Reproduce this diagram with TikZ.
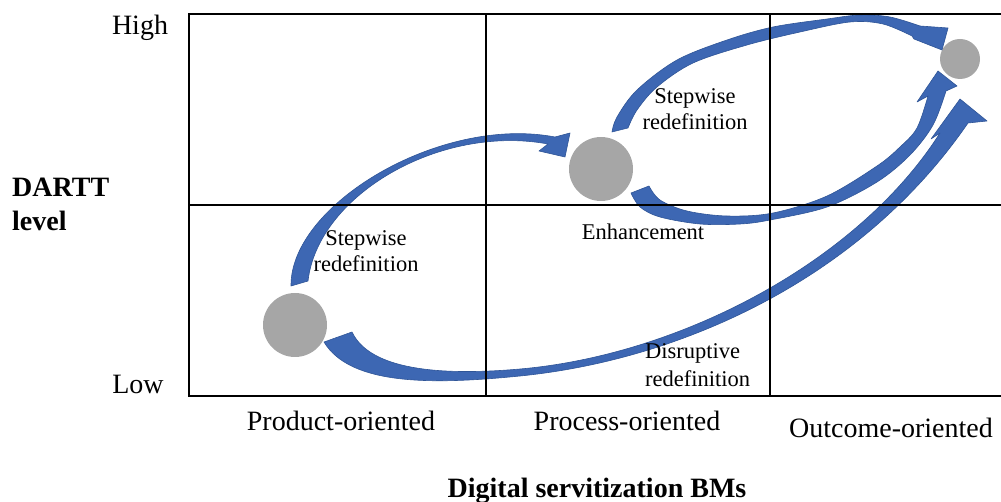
\documentclass[tikz,border=0pt]{standalone}
\usepackage{fontspec}
\setmainfont{Liberation Serif}
\definecolor{arrowblue}{HTML}{3D67B3}
\definecolor{arrowedge}{HTML}{2F5597}
\definecolor{blobgray}{HTML}{A6A6A6}
\begin{document}
\begin{tikzpicture}[x=1pt,y=-1pt,
  gridline/.style={line width=1.8pt, black},
  blob/.style={circle, fill=blobgray, inner sep=0pt},
  barrow/.style={fill=arrowblue, draw=arrowedge, line width=0.6pt, line join=round},
  big/.style={font=\fontsize{28}{34}\selectfont, inner sep=0pt},
  bigbold/.style={font=\fontsize{28}{34}\selectfont\bfseries, inner sep=0pt},
  small/.style={font=\fontsize{22.5}{27}\selectfont, inner sep=0pt}]
\useasboundingbox (0,0) rectangle (1001,502);

% bubbles
\node[blob, minimum size=64pt] (b1) at (295,325) {};
\node[blob, minimum size=64pt] (b2) at (601,169) {};
\node[blob, minimum size=40pt] (b3) at (960,59) {};

% arrow A: stepwise redefinition (product -> process)
\path[barrow] (291,286) .. controls (290,205) and (440,115) .. (555,137)
  -- (570,133) -- (565,157) -- (539,151)
  -- (548,144) .. controls (440,124) and (318,195) .. (308,281) -- cycle;

% arrow B: enhancement (process -> outcome)
\path[barrow] plot[smooth,tension=0.55] coordinates {(631,193) (640,207) (660,217) (700,224) (740,224) (770,220) (827,207) (877,182) (910,155) (933,125) (946,91)}
  -- (957,86) -- (938,71) -- (917,102)
  -- plot[smooth,tension=0.55] coordinates {(928,96) (917,128) (900,147) (877,166) (827,196) (773,213) (727,216) (687,211) (660,200) (649,186)} -- cycle;

% arrow C: stepwise redefinition (process -> outcome)
\path[barrow] plot[smooth,tension=0.55] coordinates {(612,132) (617,117) (637,90) (677,60) (727,40) (773,27) (827,19) (860,15) (890,17) (920,26)}
  -- (948,28) -- (942,50) -- (914,39)
  -- plot[smooth,tension=0.55] coordinates {(912,36) (883,24) (850,22) (800,32) (747,45) (693,63) (657,87) (637,110) (628,128)} -- cycle;

% arrow D: disruptive redefinition (product -> outcome)
\path[barrow] (324,342) .. controls (350,385) and (430,385) .. (520,376)
  .. controls (680,360) and (860,280) .. (968,123)
  -- (987,121) -- (960,99) -- (931,139)
  -- (940,133) .. controls (858,262) and (680,355) .. (520,369)
  .. controls (440,376) and (370,370) .. (352,332) -- cycle;

% grid
\draw[gridline] (1001,14) -- (189,14) -- (189,396) -- (1001,396);
\draw[gridline] (189,205) -- (1001,205);
\draw[gridline] (486,14) -- (486,396);
\draw[gridline] (770,14) -- (770,396);

% axis labels
\node[big, anchor=base] (high) at (140,35) {High};
\node[big, anchor=base] (low) at (138,393) {Low};
\node[bigbold, anchor=base west] (dartt) at (12,197) {DARTT};
\node[bigbold, anchor=base west] (level) at (12,231) {level};
\node[big, anchor=base] (prod) at (341,430) {Product-oriented};
\node[big, anchor=base] (proc) at (627,430) {Process-oriented};
\node[big, anchor=base] (outc) at (891,437) {Outcome-oriented};
\node[bigbold, anchor=base] (bms) at (597,497) {Digital servitization BMs};

% arrow labels
\node[small, anchor=base] (s1a) at (366,246) {Stepwise};
\node[small, anchor=base] (s1b) at (366,272) {redefinition};
\node[small, anchor=base] (s2a) at (695,104) {Stepwise};
\node[small, anchor=base] (s2b) at (695,130) {redefinition};
\node[small, anchor=base] (enh) at (643,240) {Enhancement};
\node[small, anchor=base west] (d1) at (645,359) {Disruptive};
\node[small, anchor=base west] (d2) at (645,386) {redefinition};
\end{tikzpicture}
\end{document}
